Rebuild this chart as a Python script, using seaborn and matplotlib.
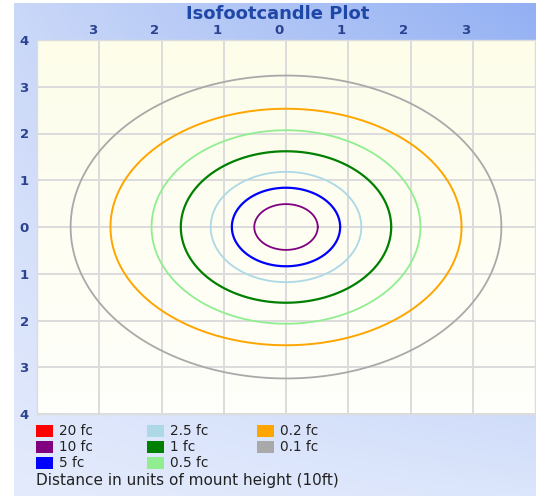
import numpy as np
import pandas as pd
import matplotlib
matplotlib.use("Agg")
import matplotlib.pyplot as plt
import matplotlib.transforms as mtransforms
from matplotlib.patches import Rectangle
import seaborn as sns

# ---- data ----
levels = ["20 fc", "10 fc", "5 fc", "2.5 fc", "1 fc", "0.5 fc", "0.2 fc", "0.1 fc"]
colors = ["#ff0000", "#800080", "#0000ff", "#add8e6", "#008000", "#90ee90", "#ffa500", "#a9a9a9"]
# contour half-widths / half-heights (units of mount height); 20 fc not reached
radius_x = [None, 0.51, 0.87, 1.21, 1.69, 2.16, 2.82, 3.46]
radius_y = [None, 0.49, 0.84, 1.18, 1.62, 2.07, 2.53, 3.24]
line_widths = [1.3, 1.3, 1.6, 1.3, 1.6, 1.3, 1.4, 1.3]
x_ticks = [-3, -2, -1, 0, 1, 2, 3]
x_tick_labels = ["3", "2", "1", "0", "1", "2", "3"]
y_ticks = [4, 3, 2, 1, 0, -1, -2, -3, -4]
y_tick_labels = ["4", "3", "2", "1", "0", "1", "2", "3", "4"]
title = "Isofootcandle Plot"
footnote = "Distance in units of mount height (10ft)"

theta = np.linspace(0, 2 * np.pi, 361)
rows = []
for lev, rx, ry in zip(levels, radius_x, radius_y):
    if rx is None:
        continue
    for t in theta:
        rows.append({"level": lev, "x": rx * np.cos(t), "y": ry * np.sin(t)})
df = pd.DataFrame(rows)

sns.set_theme(style="white")
plt.rcParams["font.family"] = ["DejaVu Sans"]

W, H = 536, 496
fig = plt.figure(figsize=(W / 100, H / 100), dpi=100)
fig.patch.set_facecolor("white")

# gradient panel background
bg = fig.add_axes([14 / W, 0, 1 - 14 / W, 1 - 3 / H], zorder=0)
tl = np.array(matplotlib.colors.to_rgb("#c9d7f8"))
tr = np.array(matplotlib.colors.to_rgb("#93b0f3"))
bl = np.array(matplotlib.colors.to_rgb("#e4ebfc"))
br = np.array(matplotlib.colors.to_rgb("#dbe5fb"))
u = np.linspace(0, 1, 200)[None, :, None]
v = np.linspace(0, 1, 200)[:, None, None]
img = (1 - v) * ((1 - u) * tl + u * tr) + v * ((1 - u) * bl + u * br)
bg.imshow(img, aspect="auto", extent=[0, 1, 0, 1])
bg.set_axis_off()

ax = fig.add_axes([37 / W, 1 - 414 / H, (535 - 37) / W, (414 - 40) / H], zorder=1)
cream = np.linspace(0, 1, 100)[:, None, None]
c_top = np.array(matplotlib.colors.to_rgb("#fdfdea"))
c_bot = np.array(matplotlib.colors.to_rgb("#fffffb"))
ax.imshow((1 - cream) * c_top + cream * c_bot, aspect="auto",
          extent=[-4, 4, -4, 4], zorder=0)

palette = {l: c for l, c in zip(levels, colors)}
for lev, lw in zip(levels, line_widths):
    sub = df[df["level"] == lev]
    if sub.empty:
        continue
    sns.lineplot(data=sub, x="x", y="y", sort=False, color=palette[lev],
                 linewidth=lw, ax=ax, estimator=None, zorder=3)

ax.set_xlim(-4, 4)
ax.set_ylim(-4, 4)
ax.set_xlabel("")
ax.set_ylabel("")
ax.set_xticks(x_ticks)
ax.set_yticks(y_ticks)
ax.xaxis.tick_top()
ax.set_xticklabels(x_tick_labels)
ax.set_yticklabels(y_tick_labels)
ax.grid(True, color="#dcdcdc", linewidth=1.4, zorder=1)
ax.set_axisbelow(True)
for sp in ax.spines.values():
    sp.set_color("#dcdcdc")
    sp.set_linewidth(1.0)
ax.tick_params(axis="both", length=0, labelsize=9.5, colors="#2b4390")
ax.tick_params(axis="x", pad=2)
ax.tick_params(axis="y", pad=6)
for lab in ax.get_xticklabels():
    lab.set_fontweight("bold")
    lab.set_transform(lab.get_transform() +
                      mtransforms.ScaledTranslation(-7 / 100, 0, fig.dpi_scale_trans))
for lab in ax.get_yticklabels():
    lab.set_fontweight("bold")

fig.text(278 / W, 1 - 14 / H, title, ha="center", va="center",
         fontsize=13, fontweight="bold", color="#1f47a8", zorder=5)

# legend, drawn as swatches + labels in three columns (filled top to bottom)
col_x = [36, 147, 257]
row_y = [431, 447, 463]
for i, (lev, c) in enumerate(zip(levels, colors)):
    cx = col_x[i // 3]
    ry = row_y[i % 3]
    fig.patches.append(Rectangle((cx / W, 1 - (ry + 6) / H), 17 / W, 12 / H,
                                 transform=fig.transFigure, facecolor=c,
                                 edgecolor="none", zorder=5))
    fig.text((cx + 23) / W, 1 - ry / H, lev, ha="left", va="center",
             fontsize=9.8, color="#222222", zorder=5)
fig.text(36 / W, 1 - 481 / H, footnote, ha="left", va="center",
         fontsize=11, color="#222222", zorder=5)

fig.savefig("out.png", dpi=100)
